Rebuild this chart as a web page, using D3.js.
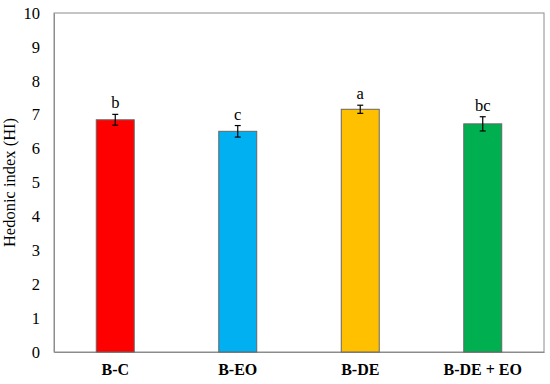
<!DOCTYPE html>
<html><head><meta charset="utf-8">
<script src="https://cdn.jsdelivr.net/npm/d3@7"></script>
<style>body{margin:0;background:#fff}svg{display:block}</style>
</head><body>
<svg id="c" width="550" height="384"></svg>
<script>
const categories = ["B-C", "B-EO", "B-DE", "B-DE + EO"];
const values = [6.85, 6.51, 7.16, 6.73];
const errors = [0.16, 0.17, 0.12, 0.21];
const letters = ["b", "c", "a", "bc"];
const colors = ["#FF0000", "#00B0F0", "#FFC000", "#00B050"];
const yTicks = [0,1,2,3,4,5,6,7,8,9,10];

const svg = d3.select("#c");
const m = {l:54, r:6, t:13, b:32};
const W = 550, H = 384;
const x = d3.scaleBand().domain(categories).range([m.l, W-m.r]).paddingInner(0.69).paddingOuter(0.345);
const y = d3.scaleLinear().domain([0,10]).range([H-m.b, m.t]);

// frame
svg.append("rect").attr("x", m.l).attr("y", m.t).attr("width", W-m.r-m.l).attr("height", H-m.b-m.t)
  .attr("fill","none").attr("stroke","#8c8c8c").attr("stroke-width",1);

const font = "'Liberation Serif','Times New Roman',serif";

// y axis
const ya = svg.append("g").attr("transform",`translate(${m.l},0)`)
  .call(d3.axisLeft(y).tickValues(yTicks).tickSize(0).tickPadding(14).tickFormat(d3.format("d")));
ya.select(".domain").attr("stroke","#8c8c8c");
ya.selectAll("text").attr("font-family",font).attr("font-size",16.5).attr("fill","#000");

// x axis
const xa = svg.append("g").attr("transform",`translate(0,${H-m.b})`)
  .call(d3.axisBottom(x).tickSize(0).tickPadding(12));
xa.select(".domain").attr("stroke","#8c8c8c");
xa.selectAll("text").attr("font-family",font).attr("font-size",16).attr("font-weight","bold").attr("fill","#000");

// bars
const data = categories.map((c,i)=>({c, v:values[i], e:errors[i], l:letters[i], col:colors[i]}));
svg.selectAll("rect.bar").data(data).enter().append("rect").attr("class","bar")
  .attr("x", d=>x(d.c)).attr("width", x.bandwidth())
  .attr("y", d=>y(d.v)).attr("height", d=>y(0)-y(d.v))
  .attr("fill", d=>d.col).attr("stroke","#666").attr("stroke-width",1);

// error bars
const eb = svg.selectAll("g.err").data(data).enter().append("g").attr("stroke","#000").attr("stroke-width",1.2);
eb.append("line").attr("x1",d=>x(d.c)+x.bandwidth()/2).attr("x2",d=>x(d.c)+x.bandwidth()/2)
  .attr("y1",d=>y(d.v-d.e)).attr("y2",d=>y(d.v+d.e));
eb.append("line").attr("x1",d=>x(d.c)+x.bandwidth()/2-3).attr("x2",d=>x(d.c)+x.bandwidth()/2+3)
  .attr("y1",d=>y(d.v-d.e)).attr("y2",d=>y(d.v-d.e));
eb.append("line").attr("x1",d=>x(d.c)+x.bandwidth()/2-3).attr("x2",d=>x(d.c)+x.bandwidth()/2+3)
  .attr("y1",d=>y(d.v+d.e)).attr("y2",d=>y(d.v+d.e));

// letters
svg.selectAll("text.lt").data(data).enter().append("text").attr("class","lt")
  .attr("x", d=>x(d.c)+x.bandwidth()/2).attr("y", d=>y(d.v+d.e)-6)
  .attr("text-anchor","middle").attr("font-family",font).attr("font-size",16.5).text(d=>d.l);

// y title
svg.append("text").attr("transform",`translate(15,${(m.t+H-m.b)/2}) rotate(-90)`)
  .attr("text-anchor","middle").attr("font-family",font).attr("font-size",16.5).text("Hedonic index (HI)");
</script>
</body></html>
